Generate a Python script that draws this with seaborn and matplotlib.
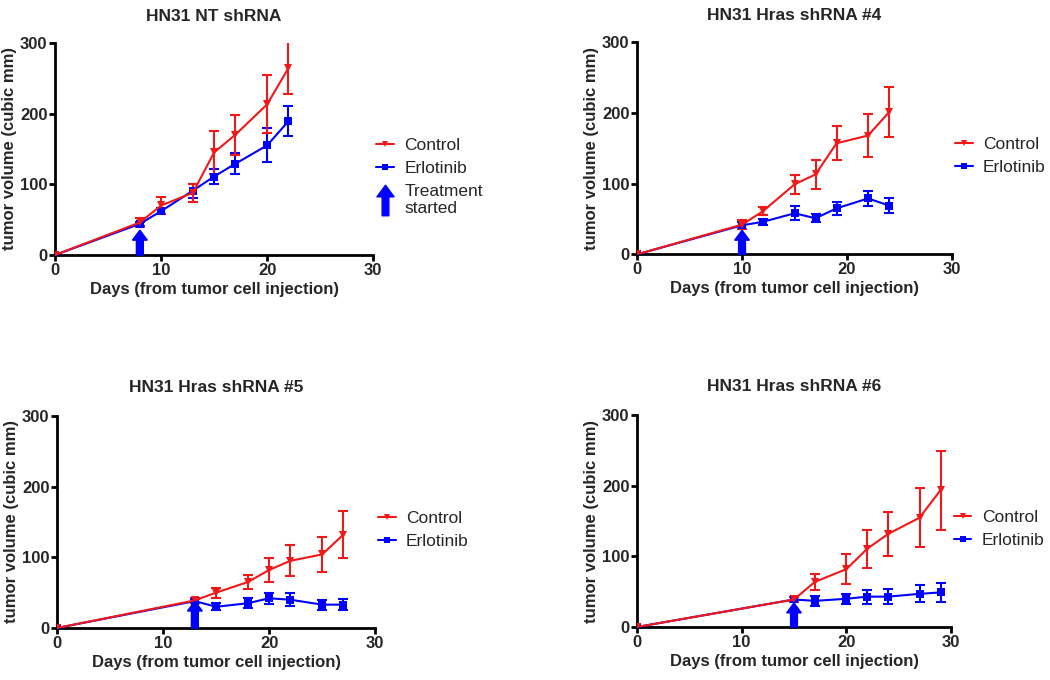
import matplotlib
matplotlib.use("Agg")
import matplotlib.pyplot as plt
from matplotlib.lines import Line2D
from matplotlib.path import Path
import numpy as np
import pandas as pd
import seaborn as sns

# ── Data ─────────────────────────────────────────────────────────────────────
titles = ["HN31 NT shRNA", "HN31 Hras shRNA #4", "HN31 Hras shRNA #5", "HN31 Hras shRNA #6"]
start_day = [8, 10, 13, 15]
arrow_tip = [35, 34, 38, 34]

days_1 = [0, 8, 10, 13, 15, 17, 20, 22]
ctrl_1 = [0, 46, 70, 88, 145, 170, 213, 264]
ctrl_err_1 = [0, 6, 12, 13, 30, 28, 41, 37]
erl_1 = [0, 44, 62, 91, 111, 129, 155, 189]
erl_err_1 = [0, 3, 4, 10, 11, 15, 24, 21]

days_4 = [0, 10, 12, 15, 17, 19, 22, 24]
ctrl_4 = [0, 42, 61, 99, 113, 157, 168, 201]
ctrl_err_4 = [0, 6, 6, 13, 20, 24, 30, 35]
erl_4 = [0, 41, 46, 58, 51, 65, 79, 69]
erl_err_4 = [0, 5, 4, 10, 6, 9, 10, 10]

days_5 = [0, 13, 15, 18, 20, 22, 25, 27]
ctrl_5 = [0, 39, 50, 65, 82, 95, 104, 132]
ctrl_err_5 = [0, 3, 7, 10, 17, 22, 25, 33]
erl_5 = [0, 38, 30, 35, 42, 40, 33, 33]
erl_err_5 = [0, 3, 5, 7, 8, 9, 7, 8]

days_6 = [0, 15, 17, 20, 22, 24, 27, 29]
ctrl_6 = [0, 39, 64, 82, 111, 132, 155, 194]
ctrl_err_6 = [0, 3, 11, 21, 27, 31, 42, 56]
erl_6 = [0, 39, 37, 40, 43, 43, 47, 49]
erl_err_6 = [0, 4, 7, 7, 10, 11, 12, 13]

panels = [
    (days_1, ctrl_1, ctrl_err_1, erl_1, erl_err_1),
    (days_4, ctrl_4, ctrl_err_4, erl_4, erl_err_4),
    (days_5, ctrl_5, ctrl_err_5, erl_5, erl_err_5),
    (days_6, ctrl_6, ctrl_err_6, erl_6, erl_err_6),
]

RED = "#f01818"
BLUE = "#0000ff"
palette = {"Control": RED, "Erlotinib": BLUE}

sns.set_style("ticks")
plt.rcParams["font.family"] = ["Liberation Sans", "DejaVu Sans"]

fig = plt.figure(figsize=(10.5, 6.8), dpi=100)
positions = [
    [0.0524, 0.625, 0.303, 0.312],
    [0.6067, 0.626, 0.300, 0.312],
    [0.0543, 0.0765, 0.303, 0.312],
    [0.6067, 0.078, 0.299, 0.311],
]
title_pad = [16, 16, 17.5, 17.5]

# upward block-arrow marker for the legend
arrow_path = Path([(-0.11, -0.5), (0.11, -0.5), (0.11, 0.12), (0.28, 0.12),
                   (0.0, 0.5), (-0.28, 0.12), (-0.11, 0.12), (-0.11, -0.5)],
                  closed=True)

for i, (days, ctrl, cerr, erl, eerr) in enumerate(panels):
    ax = fig.add_axes(positions[i])
    df = pd.DataFrame({
        "day": days + days,
        "vol": ctrl + erl,
        "group": ["Control"] * len(days) + ["Erlotinib"] * len(days),
    })
    ax.errorbar(days, erl, yerr=eerr, fmt="none", ecolor=BLUE, elinewidth=1.5,
                capsize=3.5, capthick=1.5, zorder=2)
    ax.errorbar(days, ctrl, yerr=cerr, fmt="none", ecolor=RED, elinewidth=1.5,
                capsize=3.5, capthick=1.5, zorder=2)
    sns.lineplot(data=df, x="day", y="vol", hue="group", style="group",
                 markers={"Control": "v", "Erlotinib": "s"}, dashes=False,
                 palette=palette, hue_order=["Erlotinib", "Control"],
                 markersize=5.5, markeredgewidth=0, linewidth=1.5, ax=ax,
                 legend=False, zorder=3)
    ax.arrow(start_day[i], 0, 0, arrow_tip[i], width=0.65, head_width=1.4,
             head_length=14, length_includes_head=True, color=BLUE,
             zorder=4, clip_on=False)

    ax.set_xlim(0, 30)
    ax.set_ylim(0, 300)
    ax.set_xticks([0, 10, 20, 30])
    ax.set_yticks([0, 100, 200, 300])
    ax.set_title(titles[i], fontsize=12.5, fontweight="bold", pad=title_pad[i])
    ax.set_xlabel("Days (from tumor cell injection)", fontsize=12, fontweight="bold",
                  labelpad=3)
    ax.set_ylabel("tumor volume (cubic mm)", fontsize=12, fontweight="bold",
                  labelpad=2)
    for lab in ax.get_xticklabels() + ax.get_yticklabels():
        lab.set_fontweight("bold")
    ax.tick_params(axis="both", labelsize=12, width=2, length=4, direction="out",
                   color="black", pad=1.5)
    for s in ("top", "right"):
        ax.spines[s].set_visible(False)
    for s in ("left", "bottom"):
        ax.spines[s].set_linewidth(2)
        ax.spines[s].set_color("black")

    handles = [
        Line2D([], [], color=RED, marker="v", markersize=5, markeredgewidth=0, lw=1.5),
        Line2D([], [], color=BLUE, marker="s", markersize=5, markeredgewidth=0, lw=1.5),
    ]
    labels = ["Control", "Erlotinib"]
    if i == 0:
        handles.append(Line2D([], [], color=BLUE, marker=arrow_path, markersize=22,
                              linestyle="none"))
        labels.append("Treatment\nstarted")
    ax.legend(handles, labels, loc="upper left", bbox_to_anchor=(1.01, 0.552),
              frameon=False, fontsize=12.5, handlelength=1.0, handletextpad=0.6,
              labelspacing=0.45, borderpad=0, borderaxespad=0)

fig.savefig("out.png", dpi=100)
